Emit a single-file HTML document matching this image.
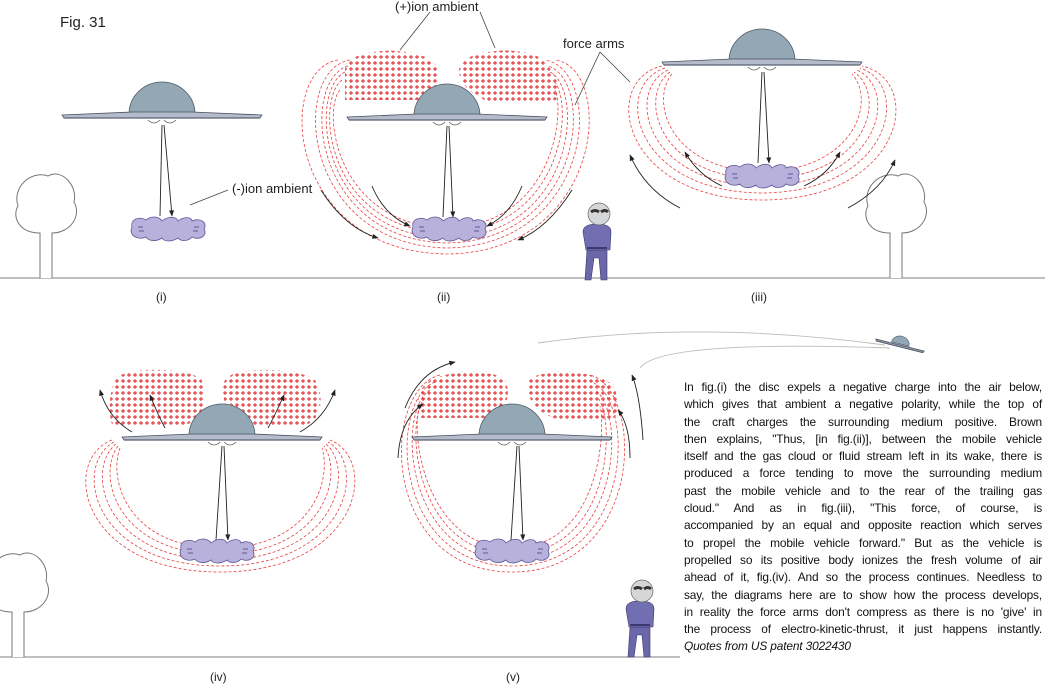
<!DOCTYPE html>
<html><head><meta charset="utf-8"><style>
html,body{margin:0;padding:0;background:#fff;}
.wrap{position:relative;width:1045px;height:686px;overflow:hidden;}
svg{position:absolute;left:0;top:0;}
.lbl{font-family:"Liberation Sans",sans-serif;font-size:12px;fill:#222;}
.txt{position:absolute;left:684px;top:379px;width:358px;font-family:"Liberation Sans",sans-serif;font-size:11.9px;line-height:17.3px;color:#111;letter-spacing:-0.15px;}
.txt div{text-align:justify;text-align-last:justify;white-space:nowrap;}
.txt div.l{text-align-last:left;font-style:italic;}
</style></head><body><div class="wrap">
<svg width="1045" height="686" viewBox="0 0 1045 686">
<defs>
<pattern id="px" width="6" height="6" patternUnits="userSpaceOnUse">
<path d="M3 1V5M1 3H5" stroke="#e01818" stroke-width="0.9"/>
</pattern>
<marker id="ah" viewBox="0 0 10 10" refX="9" refY="5" markerWidth="7" markerHeight="7" orient="auto"><path d="M0 1L10 5L0 9z" fill="#222"/></marker>
<g id="disc">
<path d="M-33 -1A33 32 0 0 1 33 -1Z" fill="#94a7b5" stroke="#4a5866" stroke-width="0.8"/>
<path d="M-100 0L-30 -3H30L100 0L98 3H-98Z" fill="#b4bccb" stroke="#4a5060" stroke-width="0.8"/>
<path d="M-98 3H98" stroke="#5a6272" stroke-width="1.2"/>
<path d="M-14 5Q-8 11 -2 5M2 5Q8 11 14 5" fill="none" stroke="#555" stroke-width="0.7"/>
</g>
<g id="cloud">
<path d="M-36 -2C-38 -10 -28 -13 -22 -9C-16 -14 -8 -12 -6 -8C0 -13 8 -13 10 -8C16 -13 24 -12 24 -8C32 -12 40 -6 36 0C40 6 32 12 24 8C20 13 12 12 10 9C4 13 -4 13 -6 9C-12 13 -20 12 -22 8C-30 12 -40 6 -36 -2Z" fill="#b8b1dc" stroke="#5e5596" stroke-width="0.8"/>
<path d="M-30 -2h5M-29 2h5M26 -2h5M25 2h5" stroke="#5e5596" stroke-width="1"/>
</g>
<g id="tree">
<path d="M0 0V-45C-22 -45 -28 -62 -22 -72C-28 -90 -10 -108 8 -102C22 -110 38 -92 34 -76C42 -62 30 -45 12 -45V0" fill="#fff" stroke="#777" stroke-width="1"/>
</g>
<g id="alien">
<path d="M-10 30L-12 60L-6 60L-3 38L2 38L4 60L10 60L10 30Z" fill="#6b67a8" stroke="#3c3870" stroke-width="0.6"/>
<path d="M-14 12Q-14 4 0 4Q14 4 14 12L13 30H-11Z" fill="#726eb2" stroke="#3c3870" stroke-width="0.6"/>
<circle cx="2" cy="-6" r="11" fill="#d4d6d8" stroke="#666" stroke-width="0.7"/>
<path d="M-6 -8Q-2 -11 2 -8M4 -8Q8 -11 11 -8" stroke="#333" stroke-width="3" fill="none"/>
<path d="M-10 28H10" stroke="#3c3870" stroke-width="2"/>
</g>
</defs>

<path d="M0 278H1045M0 657H680" stroke="#999" stroke-width="1.2"/>
<use href="#tree" x="40" y="278"/>
<use href="#tree" x="890" y="278"/>
<use href="#tree" x="12" y="657"/>
<use href="#alien" x="597" y="220"/>
<use href="#alien" x="640" y="597"/>

<text class="lbl" x="60" y="27" style="font-size:15px">Fig. 31</text>
<text class="lbl" x="395" y="11" style="font-size:13px">(+)ion ambient</text>
<text class="lbl" x="563" y="48" style="font-size:13px">force arms</text>
<text class="lbl" x="232" y="193" style="font-size:13px">(-)ion ambient</text>
<text class="lbl" x="156" y="301">(i)</text>
<text class="lbl" x="437" y="301">(ii)</text>
<text class="lbl" x="751" y="301">(iii)</text>
<text class="lbl" x="210" y="681">(iv)</text>
<text class="lbl" x="506" y="681">(v)</text>
<path d="M430 12L400 50M480 12L495 48M600 52L575 105M600 52L630 82M228 190L190 205" stroke="#444" stroke-width="0.8" fill="none"/>

<!-- (i) -->
<use href="#disc" x="162" y="115"/>
<path d="M162 125L160 216M164 125L172 216" stroke="#222" stroke-width="0.9" marker-end="url(#ah)"/>
<use href="#cloud" x="168" y="229"/>

<!-- (ii) -->
<path d="M345 65C360 45 420 48 432 62C445 72 440 95 420 100H345Z" fill="url(#px)"/>
<path d="M460 65C470 48 530 45 545 62C560 80 565 100 550 102H490C470 95 455 80 460 65Z" fill="url(#px)"/>
<g fill="none" stroke="#e84040" stroke-width="0.8" stroke-dasharray="3 2">
<path d="M350 60C290 70 300 245 447 248C595 245 605 70 545 60"/>
<path d="M348 66C300 80 310 240 447 243C585 240 595 80 548 66"/>
<path d="M345 72C308 90 318 236 447 238C575 236 585 90 550 72"/>
<path d="M342 80C315 100 325 230 447 233C565 230 575 100 553 80"/>
<path d="M340 90C322 110 335 225 447 228C555 225 565 110 555 90"/>
<path d="M338 60C275 70 285 252 447 254C605 252 615 70 556 60"/>
</g>
<use href="#disc" x="447" y="117"/>
<g fill="none" stroke="#222" stroke-width="0.9" marker-end="url(#ah)">
<path d="M447 126L443 217M449 126L453 217"/>
<path d="M321 190Q345 228 378 238"/>
<path d="M372 186Q384 215 410 226"/>
<path d="M522 186Q510 215 487 226"/>
<path d="M572 190Q548 228 518 240"/>
</g>
<use href="#cloud" x="449" y="229"/>

<!-- (iii) -->
<g fill="none" stroke="#e84040" stroke-width="0.8" stroke-dasharray="3 2">
<path d="M662 66C600 80 620 200 762 200C905 200 925 80 862 66"/>
<path d="M665 68C612 85 632 192 762 193C892 192 912 85 860 68"/>
<path d="M668 70C625 90 644 185 762 186C880 185 900 90 857 70"/>
<path d="M670 72C638 95 656 178 762 179C868 178 888 95 854 72"/>
<path d="M672 74C650 100 668 170 762 172C856 170 876 100 852 74"/>
</g>
<use href="#disc" x="762" y="62"/>
<g fill="none" stroke="#222" stroke-width="0.9" marker-end="url(#ah)">
<path d="M762 72L758 163M764 72L769 163"/>
<path d="M680 208Q645 190 630 155"/>
<path d="M722 186Q698 175 685 152"/>
<path d="M804 186Q828 175 840 152"/>
<path d="M848 208Q882 190 895 160"/>
</g>
<use href="#cloud" x="762" y="176"/>

<!-- (iv) -->
<path d="M115 380C125 365 185 368 200 378C210 390 205 420 185 425H112C108 410 110 390 115 380Z" fill="url(#px)"/>
<path d="M225 380C235 365 300 368 315 380C325 395 322 420 305 425H250C230 420 218 400 225 380Z" fill="url(#px)"/>
<g fill="none" stroke="#e84040" stroke-width="0.8" stroke-dasharray="3 2">
<path d="M112 440C60 460 80 572 220 572C360 572 380 460 330 440"/>
<path d="M114 442C72 465 92 566 220 566C348 566 368 465 328 442"/>
<path d="M116 444C84 470 104 560 220 560C336 560 356 470 326 444"/>
<path d="M118 446C96 475 116 554 220 554C324 554 344 475 324 446"/>
<path d="M120 448C108 480 128 548 220 548C312 548 332 480 322 448"/>
</g>
<use href="#disc" x="222" y="437"/>
<g fill="none" stroke="#222" stroke-width="0.9" marker-end="url(#ah)">
<path d="M222 446L216 540M224 446L228 540"/>
<path d="M132 432Q108 418 100 390"/>
<path d="M165 428Q158 415 150 395"/>
<path d="M268 428Q275 415 284 395"/>
<path d="M300 432Q325 418 335 390"/>
</g>
<use href="#cloud" x="217" y="551"/>

<!-- (v) -->
<path d="M425 385C435 370 495 368 505 380C512 395 505 415 490 418H420C415 405 418 392 425 385Z" fill="url(#px)"/>
<path d="M528 380C540 368 600 370 612 385C622 400 620 418 610 420H560C540 415 524 400 528 380Z" fill="url(#px)"/>
<g fill="none" stroke="#e84040" stroke-width="0.8" stroke-dasharray="3 2">
<path d="M440 375C380 390 380 572 512 572C645 572 645 390 590 375"/>
<path d="M435 382C388 400 392 566 512 566C634 566 636 400 592 382"/>
<path d="M430 390C396 410 404 560 512 560C622 560 626 410 595 390"/>
<path d="M425 398C404 420 414 554 512 554C612 554 616 420 598 398"/>
<path d="M420 406C410 430 424 548 512 548C600 548 606 430 600 406"/>
</g>
<use href="#disc" x="512" y="437"/>
<g fill="none" stroke="#222" stroke-width="0.9" marker-end="url(#ah)">
<path d="M517 446L511 540M519 446L523 540"/>
<path d="M405 408Q420 370 455 362"/>
<path d="M398 458Q400 420 423 404"/>
<path d="M643 440Q640 395 632 375"/>
<path d="M630 458Q630 425 618 410"/>
</g>
<use href="#cloud" x="512" y="551"/>

<path d="M538 343Q700 320 885 345M640 368Q660 340 890 348" fill="none" stroke="#bbb" stroke-width="0.9"/>
<g transform="translate(900,345) rotate(14)">
<path d="M-9 -1A9 8 0 0 1 9 -1Z" fill="#94a7b5" stroke="#4a5866" stroke-width="0.6"/>
<path d="M-25 0H25L24 2H-24Z" fill="#8a92a4" stroke="#3a4050" stroke-width="0.6"/>
</g>
</svg>
<div class="txt">
<div>In fig.(i) the disc expels a negative charge into the air below,</div>
<div>which gives that ambient a negative polarity, while the top of</div>
<div>the craft charges the surrounding medium positive. Brown</div>
<div>then explains, "Thus, [in fig.(ii)], between the mobile vehicle</div>
<div>itself and the gas cloud or fluid stream left in its wake, there is</div>
<div>produced a force tending to move the surrounding medium</div>
<div>past the mobile vehicle and to the rear of the trailing gas</div>
<div>cloud." And as in fig.(iii), "This force, of course, is</div>
<div>accompanied by an equal and opposite reaction which serves</div>
<div>to propel the mobile vehicle forward." But as the vehicle is</div>
<div>propelled so its positive body ionizes the fresh volume of air</div>
<div>ahead of it, fig.(iv). And so the process continues. Needless to</div>
<div>say, the diagrams here are to show how the process develops,</div>
<div>in reality the force arms don't compress as there is no 'give' in</div>
<div>the process of electro-kinetic-thrust, it just happens instantly.</div>
<div class="l">Quotes from US patent 3022430</div>
</div>
</div></body></html>
